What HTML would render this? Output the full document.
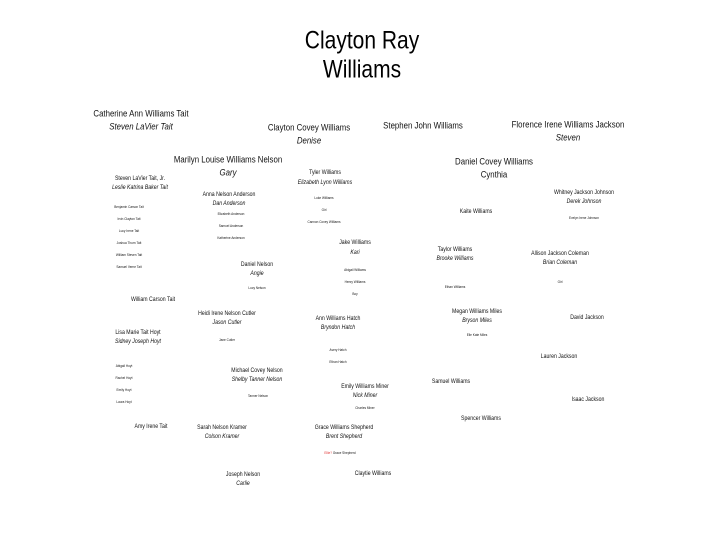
<!DOCTYPE html>
<html><head><meta charset="utf-8"><style>
body{margin:0;width:720px;height:540px;background:#fff;position:relative;overflow:hidden;font-family:"Liberation Sans Narrow","Liberation Sans",sans-serif;color:#111}
div{position:absolute;white-space:nowrap;transform:translate(-50%,-50%) scaleX(0.82);line-height:1}
.a{font-size:9px;transform:translate(-50%,-50%) scaleX(0.87)}.b{font-size:6.3px}.c{font-size:3.8px}.i{font-style:italic}
.t{font-size:25px;color:#000;transform:translate(-50%,-50%) scaleX(0.84)}
</style></head><body>
<div class="t" style="left:362px;top:41px">Clayton Ray</div>
<div class="t" style="left:362px;top:70px">Williams</div>

<div class="a" style="left:141px;top:114px">Catherine Ann Williams Tait</div>
<div class="a i" style="left:141px;top:127px">Steven LaVier Tait</div>
<div class="a" style="left:309px;top:128px">Clayton Covey Williams</div>
<div class="a i" style="left:309px;top:141px">Denise</div>
<div class="a" style="left:423px;top:126px">Stephen John Williams</div>
<div class="a" style="left:568px;top:125px">Florence Irene Williams Jackson</div>
<div class="a i" style="left:568px;top:138px">Steven</div>
<div class="a" style="left:228px;top:160px">Marilyn Louise Williams Nelson</div>
<div class="a i" style="left:228px;top:173px">Gary</div>
<div class="a" style="left:494px;top:162px">Daniel Covey Williams</div>
<div class="a" style="left:494px;top:175px">Cynthia</div>

<div class="b" style="left:140px;top:179px">Steven LaVier Tait, Jr.</div>
<div class="b i" style="left:140px;top:188px">Leslie Katrina Baker Tait</div>
<div class="c" style="left:129px;top:208px">Benjamin Carson Tait</div>
<div class="c" style="left:129px;top:220px">Irvin Clayton Tait</div>
<div class="c" style="left:129px;top:232px">Lucy Irene Tait</div>
<div class="c" style="left:129px;top:244px">Joshua Thurn Tait</div>
<div class="c" style="left:129px;top:256px">William Steven Tait</div>
<div class="c" style="left:129px;top:268px">Samuel Verne Tait</div>

<div class="b" style="left:229px;top:195px">Anna Nelson Anderson</div>
<div class="b i" style="left:229px;top:204px">Dan Anderson</div>
<div class="c" style="left:231px;top:215px">Elizabeth Anderson</div>
<div class="c" style="left:231px;top:227px">Samuel Anderson</div>
<div class="c" style="left:231px;top:239px">Katherine Anderson</div>

<div class="b" style="left:257px;top:265px">Daniel Nelson</div>
<div class="b i" style="left:257px;top:274px">Angie</div>
<div class="c" style="left:257px;top:289px">Lucy Nelson</div>
<div class="b" style="left:153px;top:300px">William Carson Tait</div>

<div class="b" style="left:325px;top:173px">Tyler Williams</div>
<div class="b i" style="left:325px;top:183px">Elizabeth Lynn Williams</div>
<div class="c" style="left:324px;top:199px">Luke Williams</div>
<div class="c" style="left:324px;top:211px">Girl</div>
<div class="c" style="left:324px;top:223px">Cannon Covey Williams</div>

<div class="b" style="left:355px;top:243px">Jake Williams</div>
<div class="b i" style="left:355px;top:253px">Kari</div>
<div class="c" style="left:355px;top:271px">Abigail Williams</div>
<div class="c" style="left:355px;top:283px">Henry Williams</div>
<div class="c" style="left:355px;top:295px">Boy</div>

<div class="b" style="left:476px;top:212px">Kaite Williams</div>
<div class="b" style="left:455px;top:250px">Taylor Williams</div>
<div class="b i" style="left:455px;top:259px">Brooke Williams</div>
<div class="c" style="left:455px;top:288px">Ethan Williams</div>

<div class="b" style="left:584px;top:193px">Whitney Jackson Johnson</div>
<div class="b i" style="left:584px;top:202px">Derek Johnson</div>
<div class="c" style="left:584px;top:219px">Evelyn Irene Johnson</div>
<div class="b" style="left:560px;top:254px">Allison Jackson Coleman</div>
<div class="b i" style="left:560px;top:263px">Brian Coleman</div>
<div class="c" style="left:560px;top:283px">Girl</div>

<div class="b" style="left:477px;top:312px">Megan Williams Miles</div>
<div class="b i" style="left:477px;top:321px">Bryson Miles</div>
<div class="c" style="left:477px;top:336px">Elle Kate Miles</div>
<div class="b" style="left:587px;top:318px">David Jackson</div>

<div class="b" style="left:138px;top:333px">Lisa Marie Tait Hoyt</div>
<div class="b i" style="left:138px;top:342px">Sidney Joseph Hoyt</div>
<div class="c" style="left:124px;top:367px">Abigail Hoyt</div>
<div class="c" style="left:124px;top:379px">Rachel Hoyt</div>
<div class="c" style="left:124px;top:391px">Emily Hoyt</div>
<div class="c" style="left:124px;top:403px">Laura Hoyt</div>

<div class="b" style="left:227px;top:314px">Heidi Irene Nelson Cutler</div>
<div class="b i" style="left:227px;top:323px">Jason Cutler</div>
<div class="c" style="left:227px;top:341px">Jane Cutler</div>
<div class="b" style="left:257px;top:371px">Michael Covey Nelson</div>
<div class="b i" style="left:257px;top:380px">Shelby Tanner Nelson</div>
<div class="c" style="left:258px;top:397px">Tanner Nelson</div>
<div class="b" style="left:151px;top:427px">Amy Irene Tait</div>
<div class="b" style="left:222px;top:428px">Sarah Nelson Kramer</div>
<div class="b i" style="left:222px;top:437px">Colson Kramer</div>
<div class="b" style="left:243px;top:475px">Joseph Nelson</div>
<div class="b i" style="left:243px;top:484px">Carlie</div>

<div class="b" style="left:338px;top:319px">Ann Williams Hatch</div>
<div class="b i" style="left:338px;top:328px">Bryndon Hatch</div>
<div class="c" style="left:338px;top:351px">Avery Hatch</div>
<div class="c" style="left:338px;top:363px">Ethan Hatch</div>
<div class="b" style="left:365px;top:387px">Emily Williams Miner</div>
<div class="b i" style="left:365px;top:396px">Nick Miner</div>
<div class="c" style="left:365px;top:409px">Charles Miner</div>
<div class="b" style="left:344px;top:428px">Grace Williams Shepherd</div>
<div class="b i" style="left:344px;top:437px">Brent Shepherd</div>
<div class="c" style="left:340px;top:454px"><span style="color:#e03030">Ellie?</span> Grace Shepherd</div>
<div class="b" style="left:373px;top:474px">Claytie Williams</div>

<div class="b" style="left:451px;top:382px">Samuel Williams</div>
<div class="b" style="left:559px;top:357px">Lauren Jackson</div>
<div class="b" style="left:588px;top:400px">Isaac Jackson</div>
<div class="b" style="left:481px;top:419px">Spencer Williams</div>
</body></html>
